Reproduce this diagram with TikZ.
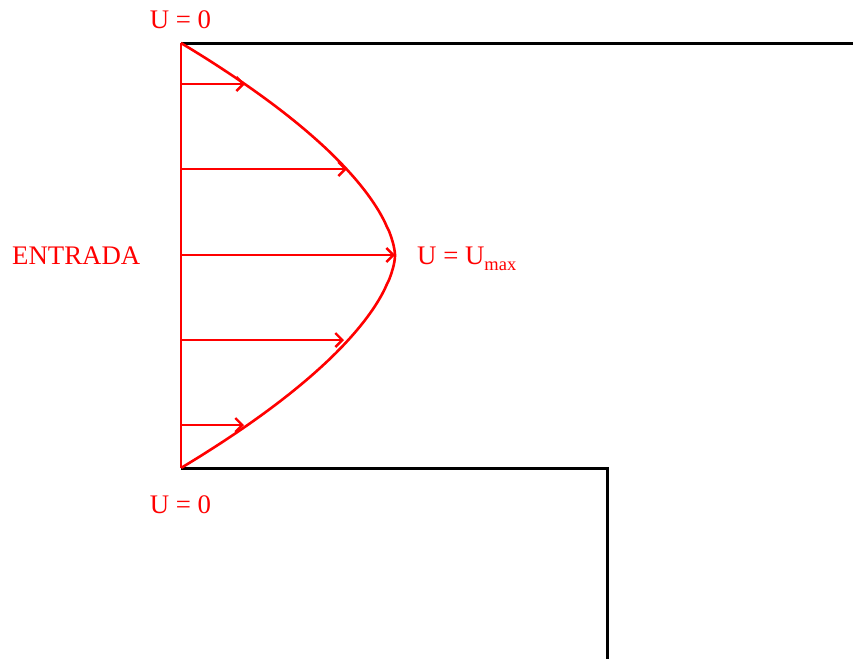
\documentclass[tikz,border=0pt]{standalone}
\usepackage{fontspec}
\setmainfont{Liberation Serif}
\usetikzlibrary{arrows.meta}
\definecolor{vred}{RGB}{255,0,0}
\begin{document}
\begin{tikzpicture}[x=1pt,y=-1pt,
  wall/.style={line width=3pt,black},
  prof/.style={line width=2.6pt,vred},
  vel/.style={line width=2.4pt,vred,-{Straight Barb[length=7pt,width=14pt,line width=2.4pt]}},
  lbl/.style={text=vred,font=\fontsize{26.8}{30}\selectfont,inner sep=0pt,anchor=base}]
\useasboundingbox (0,0) rectangle (853,659);
\coordinate (tl) at (181,43);
\coordinate (tr) at (853,43);
\coordinate (bl) at (181,468);
\coordinate (bc) at (607,468);
\coordinate (bd) at (607,659);
\draw[wall] (tl) -- (tr);
\draw[wall] (bl) -- (bc) -- (bd);
% profile points
\coordinate (p1) at (245,84);
\coordinate (p2) at (347,169);
\coordinate (p3) at (395,255);
\coordinate (p4) at (344,340);
\coordinate (p5) at (244,425);
\coordinate (w1) at (181,84);
\coordinate (w2) at (181,169);
\coordinate (w3) at (181,255);
\coordinate (w4) at (181,340);
\coordinate (w5) at (181,425);
\draw[prof] (tl) -- (bl);
\draw[prof,line join=round] plot[domain=-1:1,samples=160,variable=\t]
  ({181+214*(1-pow(max(abs(\t),0.0001),1.65))},{255.5+212.5*\t});
\foreach \i in {1,...,5} \draw[vel] (w\i) -- (p\i);
\node[lbl] (ttop) at (180.5,28) {U = 0};
\node[lbl] (tbot) at (180.5,513) {U = 0};
\node[lbl,anchor=base west] (tin) at (12,264) {ENTRADA};
\node[lbl,anchor=base west] (tmax) at (417,264) {U = U\raisebox{-6pt}{\fontsize{18.5}{20}\selectfont max}};
\end{tikzpicture}
\end{document}
